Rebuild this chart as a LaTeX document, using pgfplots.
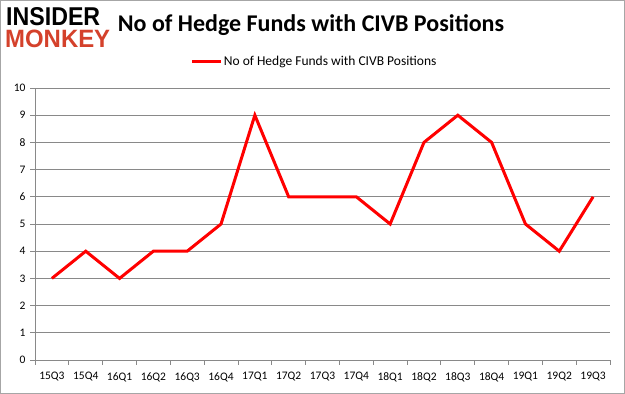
\documentclass[border=0pt]{standalone}
\usepackage{pgfplots}
\pgfplotsset{compat=1.18}
\usepackage{fontspec}
\setmainfont{Carlito}
\newfontfamily\logofont{Liberation Sans}
\definecolor{gridgray}{HTML}{898989}
\definecolor{monkeyred}{HTML}{D4412B}
\begin{document}
\begin{tikzpicture}[x=1pt,y=1pt]
\useasboundingbox (0,0) rectangle (625,394);
\draw[gray!70, line width=1pt] (0.5,0.5) rectangle (624.5,393.5);
% logo
\node[anchor=south west, inner sep=0pt] at (6,368) {\resizebox{94pt}{18pt}{\logofont\bfseries INSIDER}};
\node[anchor=south west, inner sep=0pt, text=monkeyred] at (5,346) {\resizebox{105pt}{17.5pt}{\logofont\bfseries MONKEY}};
% title
\node[anchor=center, inner sep=0pt] at (311,369) {\fontsize{24}{28}\selectfont\bfseries No of Hedge Funds with CIVB Positions};
\begin{axis}[
  at={(35pt,34pt)}, anchor=south west,
  scale only axis, width=575pt, height=272pt,
  xmin=-0.5, xmax=16.5, ymin=0, ymax=10,
  axis x line*=bottom, axis y line*=left,
  axis line style={draw=gridgray, line width=0.8pt},
  xtick={0,...,16},
  xticklabels={15Q3,15Q4,16Q1,16Q2,16Q3,16Q4,17Q1,17Q2,17Q3,17Q4,18Q1,18Q2,18Q3,18Q4,19Q1,19Q2,19Q3},
  xtick style={draw=none},
  minor xtick={-0.5,0.5,...,16.5},
  minor x tick style={draw=gridgray, line width=0.8pt},
  minor tick length=5pt,
  ytick={0,1,...,10},
  ytick style={draw=gridgray, line width=0.8pt},
  major tick length=5pt,
  tick align=outside,
  ymajorgrids,
  major grid style={draw=gridgray, line width=0.8pt},
  /pgf/number format/assume math mode=true,
  tick label style={font=\fontsize{11.5}{13}\selectfont, text=black},
  xticklabel style={yshift=-4pt},
  yticklabel style={xshift=-1pt},
  legend style={at={(0.4855,1.099)}, anchor=center, draw=none, fill=none,
    font=\fontsize{13.5}{15}\selectfont, inner sep=0pt,
    nodes={inner sep=1pt}},
  legend image code/.code={\draw[#1, line width=3pt] (0pt,0pt) -- (29pt,0pt);},
  clip=false,
]
\addplot[red, line width=3pt, mark=none] coordinates {
(0,3) (1,4) (2,3) (3,4) (4,4) (5,5) (6,9) (7,6) (8,6) (9,6) (10,5) (11,8) (12,9) (13,8) (14,5) (15,4) (16,6)
};
\addlegendentry{No of Hedge Funds with CIVB Positions}
\end{axis}
\end{tikzpicture}
\end{document}
